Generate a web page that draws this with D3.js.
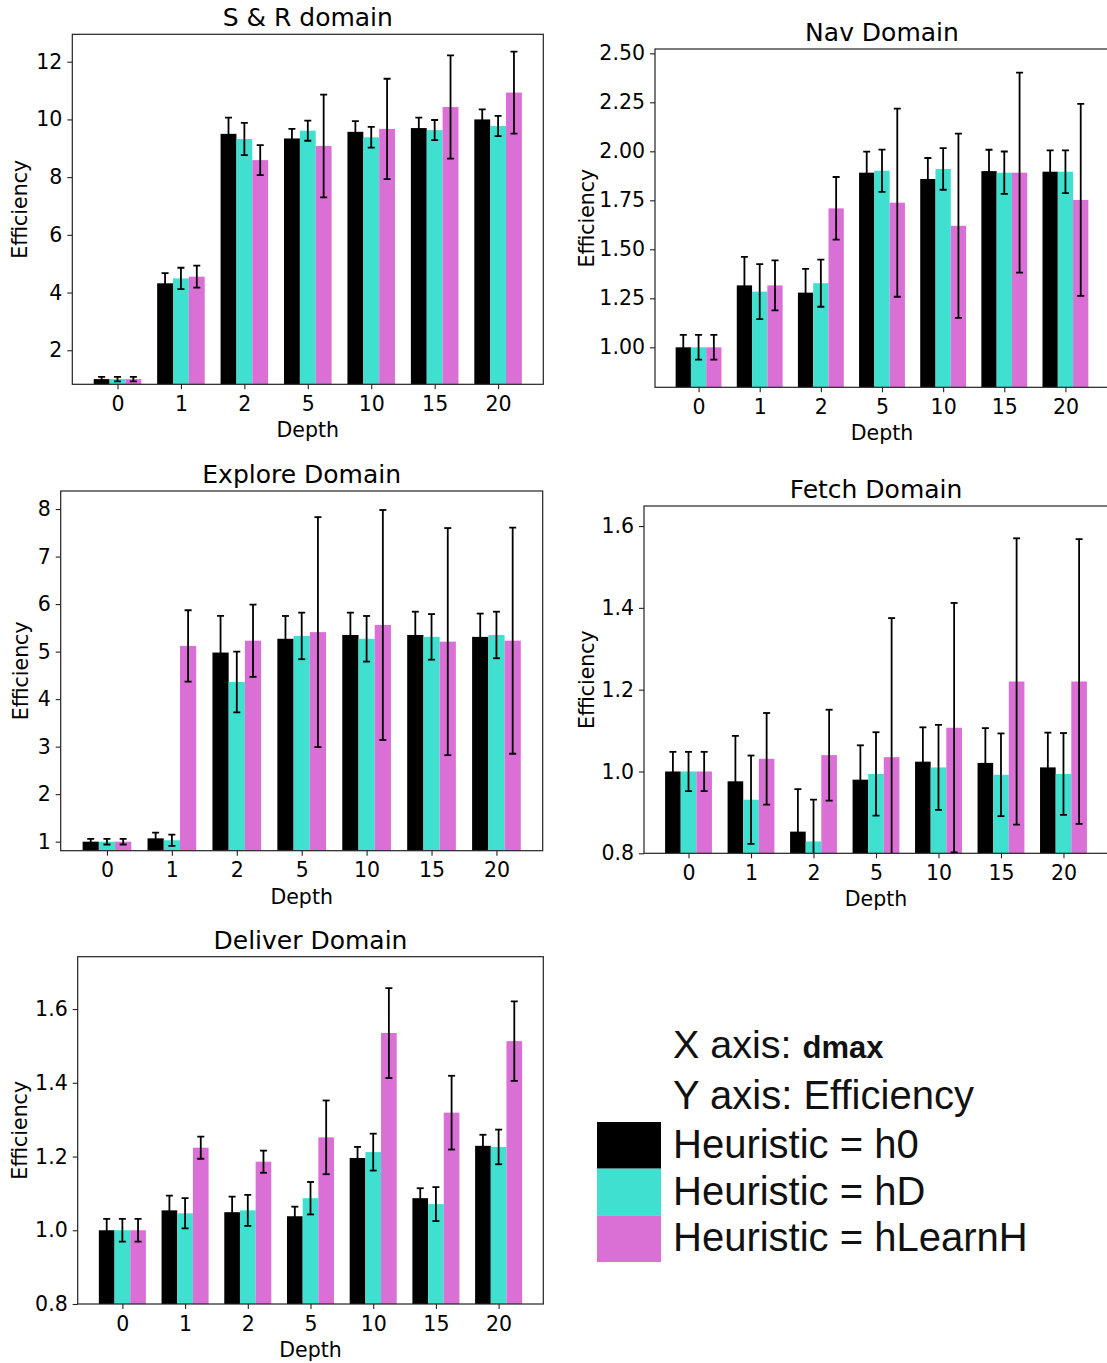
<!DOCTYPE html>
<html>
<head>
<meta charset="utf-8">
<script src="https://cdn.jsdelivr.net/npm/d3@7"></script>
<style>
  body { margin: 0; background: #fff; }
  svg { display: block; }
</style>
</head>
<body>
<svg id="chart" width="1107" height="1363"></svg>
<script>
// depth values on the x axis, shared by every panel
let depths = ["0", "1", "2", "5", "10", "15", "20"];
let heuristics = ["h0", "hD", "hLearnH"];
let colors = ["#000000", "#40E0D0", "#DA70D6"];

// S & R domain  (rows: h0, hD, hLearnH)
let srMeans = [
  [1.00, 4.32, 9.50, 9.34, 9.57, 9.70, 10.00],
  [1.00, 4.49, 9.32, 9.61, 9.38, 9.63, 9.77],
  [1.00, 4.55, 8.59, 9.08, 9.67, 10.43, 10.93]
];
let srErrs = [
  [0.08, 0.35, 0.56, 0.33, 0.37, 0.36, 0.35],
  [0.08, 0.37, 0.56, 0.35, 0.36, 0.35, 0.35],
  [0.08, 0.38, 0.52, 1.78, 1.74, 1.79, 1.42]
];
let srTicks = [2, 4, 6, 8, 10, 12];

// Nav domain
let navMeans = [
  [1.00, 1.316, 1.279, 1.891, 1.859, 1.899, 1.896],
  [1.00, 1.284, 1.327, 1.901, 1.910, 1.891, 1.896],
  [1.00, 1.316, 1.709, 1.738, 1.620, 1.891, 1.752]
];
let navErrs = [
  [0.063, 0.145, 0.121, 0.107, 0.107, 0.109, 0.109],
  [0.063, 0.140, 0.120, 0.108, 0.106, 0.108, 0.109],
  [0.063, 0.128, 0.160, 0.480, 0.470, 0.510, 0.490]
];
let navTicks = [1.00, 1.25, 1.50, 1.75, 2.00, 2.25, 2.50];

// Explore domain
let exploreMeans = [
  [1.00, 1.07, 4.98, 5.27, 5.35, 5.35, 5.31],
  [1.00, 1.03, 4.36, 5.33, 5.27, 5.31, 5.35],
  [1.00, 5.12, 5.23, 5.41, 5.56, 5.21, 5.23]
];
let exploreErrs = [
  [0.06, 0.12, 0.77, 0.48, 0.47, 0.49, 0.49],
  [0.06, 0.12, 0.64, 0.49, 0.48, 0.48, 0.49],
  [0.06, 0.75, 0.76, 2.42, 2.42, 2.39, 2.38]
];
let exploreTicks = [1, 2, 3, 4, 5, 6, 7, 8];

// Fetch domain
let fetchMeans = [
  [1.00, 0.976, 0.853, 0.980, 1.024, 1.021, 1.010],
  [1.00, 0.931, 0.829, 0.994, 1.010, 0.992, 0.994],
  [1.00, 1.031, 1.040, 1.035, 1.107, 1.220, 1.220]
];
let fetchErrs = [
  [0.048, 0.111, 0.104, 0.084, 0.084, 0.085, 0.085],
  [0.048, 0.108, 0.102, 0.102, 0.104, 0.101, 0.100],
  [0.048, 0.112, 0.111, 0.340, 0.305, 0.350, 0.348]
];
let fetchTicks = [0.8, 1.0, 1.2, 1.4, 1.6];

// Deliver domain
let deliverMeans = [
  [1.00, 1.054, 1.049, 1.038, 1.196, 1.087, 1.229],
  [1.00, 1.046, 1.054, 1.087, 1.212, 1.071, 1.226],
  [1.00, 1.224, 1.186, 1.252, 1.535, 1.319, 1.513]
];
let deliverErrs = [
  [0.031, 0.040, 0.042, 0.026, 0.030, 0.027, 0.030],
  [0.031, 0.041, 0.042, 0.044, 0.050, 0.046, 0.047],
  [0.031, 0.030, 0.030, 0.100, 0.122, 0.100, 0.108]
];
let deliverTicks = [0.8, 1.0, 1.2, 1.4, 1.6];

let svg = d3.select("#chart");
let font = "DejaVu Sans, sans-serif";

function drawPanel(opt, means, errs, ticks) {
  let x = d3.scaleLinear().domain([-0.7125, 6.7125]).range([opt.left, opt.right]);
  let y = d3.scaleLinear().domain(opt.ylim).range([opt.bottom, opt.top]);
  let barW = x(0.25) - x(0);

  let g = svg.append("g");
  g.append("clipPath").attr("id", "clip_" + opt.id)
    .append("rect")
      .attr("x", opt.left).attr("y", opt.top)
      .attr("width", opt.right - opt.left).attr("height", opt.bottom - opt.top);
  let plot = g.append("g").attr("clip-path", "url(#clip_" + opt.id + ")");

  heuristics.forEach(function(h, s) {
    let off = (s - 1) * 0.25;
    // bars
    plot.selectAll(".bar" + s)
      .data(means[s])
      .enter()
      .append("rect")
        .attr("x", (d, i) => x(i + off) - barW / 2)
        .attr("y", d => y(d))
        .attr("width", barW)
        .attr("height", d => y(opt.ylim[0]) - y(d))
        .style("fill", colors[s]);
    // error bars
    let eb = plot.selectAll(".err" + s)
      .data(means[s])
      .enter()
      .append("g");
    eb.append("line")
      .attr("x1", (d, i) => x(i + off)).attr("x2", (d, i) => x(i + off))
      .attr("y1", (d, i) => y(d + errs[s][i]))
      .attr("y2", (d, i) => y(d - errs[s][i]));
    eb.append("line")
      .attr("x1", (d, i) => x(i + off) - 3.5).attr("x2", (d, i) => x(i + off) + 3.5)
      .attr("y1", (d, i) => y(d + errs[s][i])).attr("y2", (d, i) => y(d + errs[s][i]));
    eb.append("line")
      .attr("x1", (d, i) => x(i + off) - 3.5).attr("x2", (d, i) => x(i + off) + 3.5)
      .attr("y1", (d, i) => y(d - errs[s][i])).attr("y2", (d, i) => y(d - errs[s][i]));
    eb.selectAll("line").style("stroke", "#000").style("stroke-width", 1.8);
  });

  // frame
  g.append("rect")
    .attr("x", opt.left).attr("y", opt.top)
    .attr("width", opt.right - opt.left).attr("height", opt.bottom - opt.top)
    .style("fill", "none").style("stroke", "#222").style("stroke-width", 1.2);

  // axes
  let xAxis = d3.axisBottom(x).tickValues(d3.range(depths.length))
    .tickFormat(i => depths[i]).tickSize(5).tickPadding(7);
  let yAxis = d3.axisLeft(y).tickValues(ticks)
    .tickFormat(d3.format(opt.fmt)).tickSize(5).tickPadding(5);
  let ax = g.append("g").attr("transform", "translate(0," + opt.bottom + ")").call(xAxis);
  let ay = g.append("g").attr("transform", "translate(" + opt.left + ",0)").call(yAxis);
  [ax, ay].forEach(function(a) {
    a.select(".domain").remove();
    a.selectAll("line").style("stroke", "#222").style("stroke-width", 1.1);
    a.selectAll("text").style("font-family", font).style("font-size", "20.5px").style("fill", "#000");
  });

  // title and labels
  g.append("text")
    .attr("x", (opt.left + opt.right) / 2).attr("y", opt.top - 8)
    .text(opt.title)
    .style("font-family", font).style("font-size", "25px")
    .style("text-anchor", "middle");
  g.append("text")
    .attr("x", (opt.left + opt.right) / 2).attr("y", opt.bottom + 53)
    .text("Depth")
    .style("font-family", font).style("font-size", "20.5px")
    .style("text-anchor", "middle");
  g.append("text")
    .attr("transform", "translate(" + opt.ylabX + "," + (opt.top + opt.bottom) / 2 + ") rotate(-90)")
    .text("Efficiency")
    .style("font-family", font).style("font-size", "20.5px")
    .style("text-anchor", "middle");
}

drawPanel({id: "sr", title: "S & R domain", left: 72.3, right: 543.3, top: 34.3, bottom: 384.3,
  ylim: [0.82, 12.95], fmt: "d", ylabX: 27}, srMeans, srErrs, srTicks);
drawPanel({id: "nav", title: "Nav Domain", left: 655, right: 1109, top: 49, bottom: 387.3,
  ylim: [0.796, 2.522], fmt: ".2f", ylabX: 594}, navMeans, navErrs, navTicks);
drawPanel({id: "explore", title: "Explore Domain", left: 60.7, right: 542.7, top: 491, bottom: 850.7,
  ylim: [0.81, 8.38], fmt: "d", ylabX: 28}, exploreMeans, exploreErrs, exploreTicks);
drawPanel({id: "fetch", title: "Fetch Domain", left: 644, right: 1108, top: 506, bottom: 853.3,
  ylim: [0.8, 1.649], fmt: ".1f", ylabX: 594}, fetchMeans, fetchErrs, fetchTicks);
drawPanel({id: "deliver", title: "Deliver Domain", left: 77.7, right: 543.3, top: 956.7, bottom: 1304,
  ylim: [0.8, 1.742], fmt: ".1f", ylabX: 27}, deliverMeans, deliverErrs, deliverTicks);

// legend block
let legFont = "Liberation Sans, Arial, sans-serif";
let leg = svg.append("g");
let t1 = leg.append("text").attr("x", 673).attr("y", 1058)
  .style("font-family", legFont).style("font-size", "39.5px").style("fill", "#111");
t1.append("tspan").text("X axis: ");
t1.append("tspan").text("dmax").style("font-size", "31px").style("font-weight", "bold");
leg.append("text").attr("x", 673).attr("y", 1109)
  .text("Y axis: Efficiency")
  .style("font-family", legFont).style("font-size", "40px").style("fill", "#111");

let legY = d3.scaleBand().domain(heuristics).range([1122, 1262]);
leg.selectAll(".patch")
  .data(heuristics)
  .enter()
  .append("rect")
    .attr("x", 597)
    .attr("y", d => legY(d))
    .attr("width", 64)
    .attr("height", legY.bandwidth())
    .style("fill", (d, i) => colors[i]);
leg.selectAll(".legText")
  .data(heuristics)
  .enter()
  .append("text")
    .attr("x", 673)
    .attr("y", d => legY(d) + 36)
    .text(d => "Heuristic = " + d)
    .style("font-family", legFont).style("font-size", "40px").style("fill", "#111");
</script>
</body>
</html>
